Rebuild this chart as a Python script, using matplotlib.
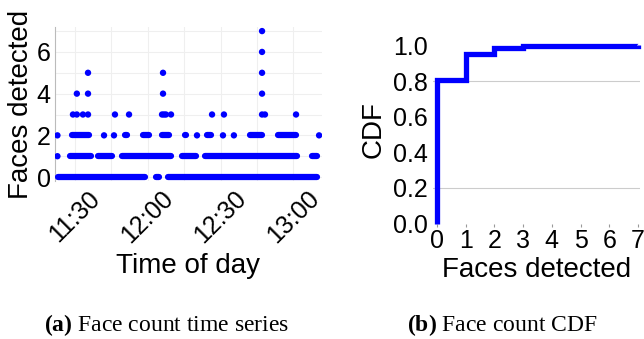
import matplotlib
matplotlib.use("Agg")
import matplotlib.pyplot as plt

plt.rcParams['font.family'] = 'Liberation Sans'
plt.rcParams['mathtext.fontset'] = 'custom'
plt.rcParams['mathtext.rm'] = 'Liberation Serif'
plt.rcParams['mathtext.bf'] = 'Liberation Serif:bold'

# time series: minutes after 11:00, grouped by number of faces detected
# long stretches of consecutive samples are kept as (start, end) runs
dense_runs = {
    0: [(23.0, 59.0), (63.4, 64.6), (68.3, 129.7)],
    1: [(27.9, 36.6), (39.5, 45.2), (49.4, 69.6), (74.1, 79.9), (83.6, 121.5), (127.7, 129.7)],
    2: [(28.8, 35.8), (50.6, 51.4), (58.0, 60.5), (65.9, 68.7), (75.3, 75.7),
        (84.4, 86.0), (102.1, 107.1), (113.7, 121.1)],
}
single_points = {
    1: [22.8],
    2: [22.8, 42.0, 46.1, 80.3, 91.0, 95.5, 130.6],
    3: [29.2, 30.8, 33.3, 35.4, 46.5, 52.3, 65.9, 66.7, 67.5, 69.6, 86.5, 91.4, 107.1, 108.3, 121.1],
    4: [30.8, 35.4, 66.3, 107.1],
    5: [35.4, 66.3, 107.1],
    6: [107.1],
    7: [107.1],
}
tick_minutes = [30, 60, 90, 120]
tick_labels = ["11:30", "12:00", "12:30", "13:00"]

# CDF of face count
faces = [0, 1, 2, 3, 4, 5, 6, 7]
cdf = [0.805, 0.955, 0.986, 0.996, 0.997, 0.998, 0.999, 1.0]

blue = '#0000ff'
fig = plt.figure(figsize=(6.44, 3.39), dpi=100)

# ---- (a) time series
ax1 = fig.add_axes([0.0854, 0.466, 0.4146, 0.454])
for y, runs in dense_runs.items():
    for s, e in runs:
        ax1.hlines(y, s, e, colors=blue, linewidth=4.5, capstyle='round', zorder=3)
for y, xs in single_points.items():
    ax1.scatter(xs, [y] * len(xs), s=21, color=blue, edgecolors='none', zorder=3)

ax1.set_xlim(21.8, 131.8)
ax1.set_ylim(-0.19, 7.19)
ax1.set_yticks([0, 2, 4, 6])
ax1.set_yticks([1, 3, 5, 7], minor=True)
ax1.set_xticks(tick_minutes)
ax1.set_xticklabels(tick_labels, rotation=45, ha='center', va='top')
ax1.set_xticks([45, 75, 105], minor=True)
ax1.grid(True, which='both', color='#efefef', linewidth=0.8, zorder=0)
ax1.tick_params(which='both', length=0, labelsize=18, pad=3)
ax1.tick_params(axis='x', pad=4)
for side in ['top', 'right', 'bottom']:
    ax1.spines[side].set_visible(False)
ax1.spines['left'].set_color('#bbbbbb')
ax1.spines['left'].set_linewidth(0.8)
ax1.set_ylabel('Faces detected', fontsize=20, labelpad=2)
ax1.set_xlabel('Time of day', fontsize=20, labelpad=4)

# ---- (b) CDF
ax2 = fig.add_axes([0.6724, 0.3407, 0.3214, 0.5566])
ax2.plot([0] + faces, [0] + cdf, drawstyle='steps-post', color=blue, linewidth=3.8,
         solid_capstyle='butt', solid_joinstyle='miter', clip_on=False, zorder=3)
for g in [0.2, 0.8]:
    ax2.axhline(g, color='#cccccc', linewidth=0.8, zorder=1)
ax2.set_xlim(-0.14, 7.07)
ax2.set_ylim(0, 1.06)
ax2.set_xticks(faces)
ax2.set_yticks([0.0, 0.2, 0.4, 0.6, 0.8, 1.0])
ax2.set_yticklabels(['0.0', '0.2', '0.4', '0.6', '0.8', '1.0'])
ax2.tick_params(axis='y', length=0, labelsize=18, pad=4)
ax2.tick_params(axis='x', length=2, color='#999999', labelsize=18, pad=2)
for side in ax2.spines:
    ax2.spines[side].set_visible(False)
ax2.set_xlabel('Faces detected', fontsize=20, labelpad=3)
ax2.set_ylabel('CDF', fontsize=20, labelpad=4)

# captions
fig.text(0.258, 0.04, r'$\mathbf{(a)}$ Face count time series', fontsize=17,
         family='Liberation Serif', ha='center', va='center')
fig.text(0.78, 0.04, r'$\mathbf{(b)}$ Face count CDF', fontsize=17,
         family='Liberation Serif', ha='center', va='center')

fig.savefig('out.png', dpi=100)
